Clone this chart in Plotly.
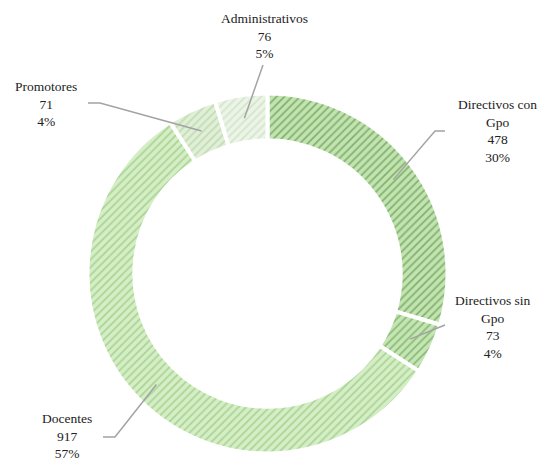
import math
import plotly.graph_objects as go

# ---- data ----
categories = ["Directivos con Gpo", "Directivos sin Gpo", "Docentes", "Promotores", "Administrativos"]
label_text = ["Directivos con<br>Gpo", "Directivos sin<br>Gpo", "Docentes", "Promotores", "Administrativos"]
values = [478, 73, 917, 71, 76]

# ---- styles ----
bg_colors = ["#c3e3b0", "#c6e5b4", "#d6eec7", "#e0efd6", "#ecf4e7"]
fg_colors = ["#3f8230", "#4c913a", "#7cbc5e", "#a3c993", "#bdd6b2"]

W, H = 540, 461
CX, CY, R = 267.5, 273.5, 180.0   # pie centre / radius in pixels
HOLE = 0.74

# label anchor (centre of text block) and leader elbows, in pixels
label_pos = [(497, 131), (493, 327), (67, 436), (46, 104), (264, 36)]
elbows = [[(435, 131), (445, 131)], [(445, 325)], [(115, 437), (103, 437)],
          [(100, 103), (88, 103)], [(263, 65)]]

# percentages by largest remainder
total = sum(values)
raw = [v * 100 / total for v in values]
fl = [math.floor(r) for r in raw]
rem = 100 - sum(fl)
order = sorted(range(len(raw)), key=lambda i: raw[i] - fl[i], reverse=True)
pct = fl[:]
for i in order[:rem]:
    pct[i] += 1


def px2paper(x, y):
    return x / W, 1 - y / H


fig = go.Figure()
fig.add_trace(go.Pie(
    labels=categories, values=values, sort=False, direction="clockwise", rotation=0,
    hole=HOLE, textinfo="none", hoverinfo="label+value+percent",
    marker=dict(colors=bg_colors, line=dict(color="white", width=4),
                pattern=dict(shape="/", fgcolor=fg_colors, bgcolor=bg_colors,
                             size=5.5, solidity=0.32, fillmode="overlay")),
    domain=dict(x=[(CX - R) / W, (CX + R) / W], y=[1 - (CY + R) / H, 1 - (CY - R) / H]),
    showlegend=False,
))

cum = 0
shapes = []
annotations = []
for i, v in enumerate(values):
    theta = 2 * math.pi * (cum + v / 2) / total
    cum += v
    rr = 157
    sx = CX + rr * math.sin(theta)
    sy = CY - rr * math.cos(theta)
    pts = [(sx, sy)] + elbows[i]
    path = ""
    for k, (x, y) in enumerate(pts):
        px, py = px2paper(x, y)
        path += ("M" if k == 0 else " L") + f" {px:.5f},{py:.5f}"
    shapes.append(dict(type="path", xref="paper", yref="paper", path=path,
                       line=dict(color="#a3a3a3", width=1.5)))
    lx, ly = px2paper(*label_pos[i])
    annotations.append(dict(xref="paper", yref="paper", x=lx, y=ly, xanchor="center",
                            yanchor="middle", showarrow=False, align="center",
                            text=f"{label_text[i]}<br>{v}<br>{pct[i]}%",
                            font=dict(family="Liberation Serif", size=13.5, color="#222222")))

fig.update_layout(
    width=W, height=H, margin=dict(l=0, r=0, t=0, b=0),
    paper_bgcolor="white", plot_bgcolor="white",
    shapes=shapes, annotations=annotations,
)
fig.write_html("out.html", config={"displayModeBar": False},
               post_script="document.body.style.margin='0px';")
